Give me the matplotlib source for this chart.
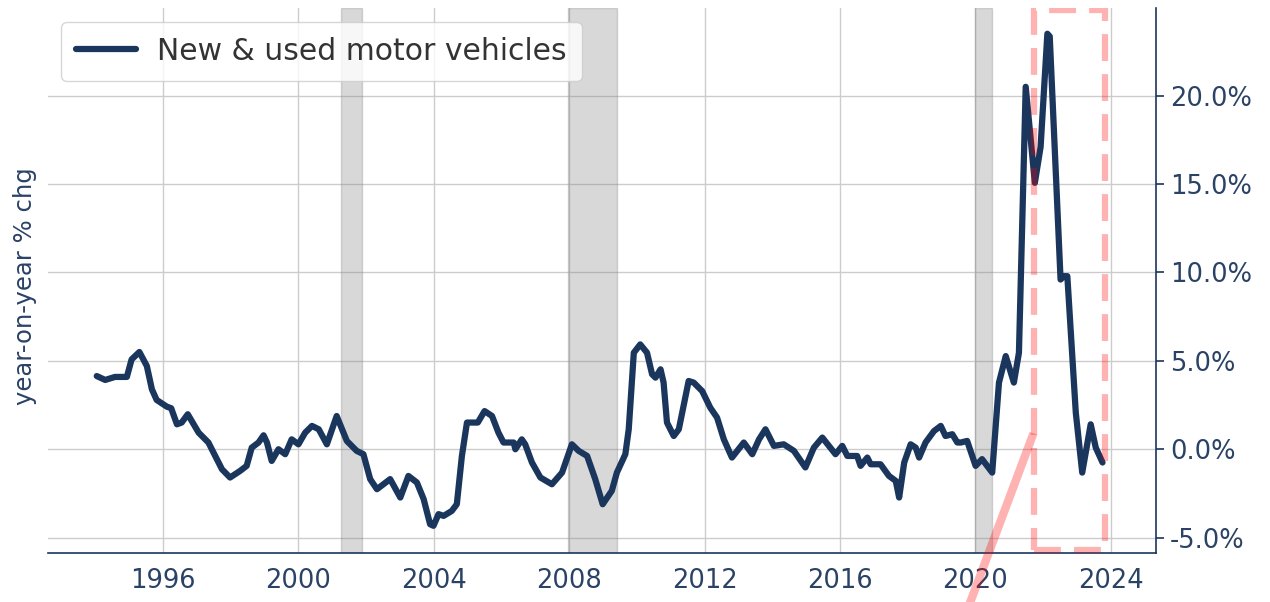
import matplotlib
matplotlib.use("Agg")
import matplotlib.pyplot as plt
from matplotlib.patches import Rectangle

# ---- data ----
years = [
    1994.04, 1994.29, 1994.58, 1994.93, 1995.07, 1995.30, 1995.52, 1995.67, 1995.81,
    1996.11, 1996.24, 1996.41, 1996.55, 1996.73, 1997.05, 1997.34, 1997.74, 1997.98,
    1998.28, 1998.47, 1998.62, 1998.82, 1998.97, 1999.07, 1999.21, 1999.41, 1999.61,
    1999.80, 2000.00, 2000.20, 2000.40, 2000.60, 2000.84, 2001.13, 2001.43, 2001.72,
    2001.92, 2002.12, 2002.32, 2002.71, 2003.01, 2003.25, 2003.50, 2003.70, 2003.89,
    2003.99, 2004.14, 2004.29, 2004.53, 2004.68, 2004.83, 2004.98, 2005.13, 2005.30,
    2005.50, 2005.72, 2005.91, 2006.06, 2006.36, 2006.41, 2006.60, 2006.70, 2006.90,
    2007.15, 2007.49, 2007.79, 2008.08, 2008.28, 2008.53, 2008.77, 2008.99, 2009.26,
    2009.41, 2009.66, 2009.76, 2009.91, 2010.10, 2010.30, 2010.45, 2010.55, 2010.70,
    2010.79, 2010.89, 2011.09, 2011.24, 2011.53, 2011.68, 2011.93, 2012.17, 2012.37,
    2012.57, 2012.81, 2013.16, 2013.41, 2013.61, 2013.80, 2014.05, 2014.34, 2014.64,
    2014.98, 2015.23, 2015.48, 2015.87, 2016.07, 2016.22, 2016.51, 2016.61, 2016.81,
    2016.91, 2017.20, 2017.45, 2017.65, 2017.75, 2017.90, 2018.09, 2018.24, 2018.34,
    2018.53, 2018.78, 2018.98, 2019.12, 2019.32, 2019.47, 2019.57, 2019.76, 2020.01,
    2020.20, 2020.35, 2020.50, 2020.70, 2020.90, 2021.14, 2021.29, 2021.49, 2021.76,
    2021.93, 2022.13, 2022.20, 2022.52, 2022.62, 2022.72, 2022.97, 2023.16, 2023.41,
    2023.56, 2023.76,
]
yoy_pct = [
    4.14, 3.92, 4.09, 4.09, 5.08, 5.50, 4.71, 3.39, 2.79,
    2.41, 2.32, 1.41, 1.51, 1.98, 0.94, 0.38, -1.13, -1.60,
    -1.22, -0.94, 0.09, 0.38, 0.79, 0.38, -0.66, 0.00, -0.28,
    0.56, 0.28, 0.94, 1.32, 1.13, 0.28, 1.88, 0.47, -0.09,
    -0.28, -1.69, -2.26, -1.69, -2.73, -1.51, -1.88, -2.82, -4.24,
    -4.33, -3.67, -3.77, -3.49, -3.11, -0.38, 1.51, 1.51, 1.51,
    2.16, 1.88, 0.94, 0.38, 0.38, 0.00, 0.56, 0.28, -0.75,
    -1.60, -1.98, -1.32, 0.28, -0.09, -0.38, -1.69, -3.11, -2.35,
    -1.32, -0.28, 1.13, 5.46, 5.93, 5.46, 4.24, 4.05, 4.52,
    3.77, 1.51, 0.75, 1.13, 3.86, 3.77, 3.29, 2.35, 1.79,
    0.56, -0.47, 0.38, -0.28, 0.56, 1.13, 0.19, 0.28, -0.09,
    -1.03, 0.09, 0.66, -0.28, 0.19, -0.38, -0.38, -0.94, -0.47,
    -0.85, -0.85, -1.51, -1.79, -2.73, -0.75, 0.28, 0.09, -0.47,
    0.38, 1.03, 1.32, 0.75, 0.85, 0.38, 0.38, 0.47, -0.94,
    -0.56, -0.94, -1.32, 3.77, 5.27, 3.77, 5.46, 20.50, 15.07,
    17.10, 23.50, 23.35, 9.60, 9.79, 9.79, 2.07, -1.32, 1.41,
    0.09, -0.75,
]
series_label = "New & used motor vehicles"
y_label = "year-on-year % chg"
recessions = [(2001.25, 2001.88), (2007.98, 2009.42), (2020.0, 2020.5)]
highlight_x = (2021.74, 2023.82)
highlight_y = (-5.7, 24.85)
arrow_tail = (2021.72, 0.9)
arrow_head = (2019.0, -13.0)
x_ticks = [1996, 2000, 2004, 2008, 2012, 2016, 2020, 2024]
y_ticks = [-5, 0, 5, 10, 15, 20]

NAVY = "#1b365d"
TXT = "#2a4266"

fig = plt.figure(figsize=(12.7, 6.02), dpi=100)
ax = fig.add_axes([48 / 1270, 49.5 / 602, (1156 - 48) / 1270, (552.5 - 8.3) / 602])

for a, b in recessions:
    ax.axvspan(a, b, color="gray", alpha=0.3, lw=1, zorder=1)

ax.plot(years, yoy_pct, color=NAVY, lw=4.5, label=series_label, zorder=3,
        solid_capstyle="round", solid_joinstyle="round")

rect = Rectangle((highlight_x[0], highlight_y[0]), highlight_x[1] - highlight_x[0],
                 highlight_y[1] - highlight_y[0], fill=False, edgecolor="red",
                 alpha=0.3, lw=4.5, linestyle=(0, (4.3, 2.1)), zorder=4)
ax.add_patch(rect)

ax.annotate("", xy=arrow_head, xytext=arrow_tail, annotation_clip=False,
            arrowprops=dict(arrowstyle="simple,head_width=1.2,head_length=1.0,tail_width=0.6",
                            color="red", alpha=0.3, lw=0, shrinkA=0, shrinkB=0))

ax.set_xlim(1992.6, 2025.34)
ax.set_ylim(-5.84, 24.94)
ax.set_xticks(x_ticks)
ax.set_yticks(y_ticks)
ax.set_yticklabels([f"{v:.1f}%" for v in y_ticks])

ax.yaxis.tick_right()
ax.yaxis.set_label_position("left")
ax.set_ylabel(y_label, fontsize=17.5, color=TXT)
ax.yaxis.set_label_coords(-0.01, 0.49)

ax.grid(True, color="#cccccc", lw=1.0, zorder=0)
ax.set_axisbelow(True)

for s in ["left", "top"]:
    ax.spines[s].set_visible(False)
for s in ["right", "bottom"]:
    ax.spines[s].set_color(NAVY)
    ax.spines[s].set_linewidth(1.2)

ax.tick_params(axis="y", which="both", right=True, left=False, length=6, width=1.2,
               color=NAVY, labelcolor=TXT, labelsize=18.5, pad=4)
ax.tick_params(axis="x", length=0, labelcolor=TXT, labelsize=18.5, pad=11)

leg = ax.legend(loc="upper left", fontsize=21.5, frameon=True, fancybox=True,
                framealpha=0.8, edgecolor="#cccccc", handlelength=2.0,
                handletextpad=0.7, borderpad=0.5, borderaxespad=0.45)
for t in leg.get_texts():
    t.set_color("#333333")

fig.savefig("out.png", dpi=100)
